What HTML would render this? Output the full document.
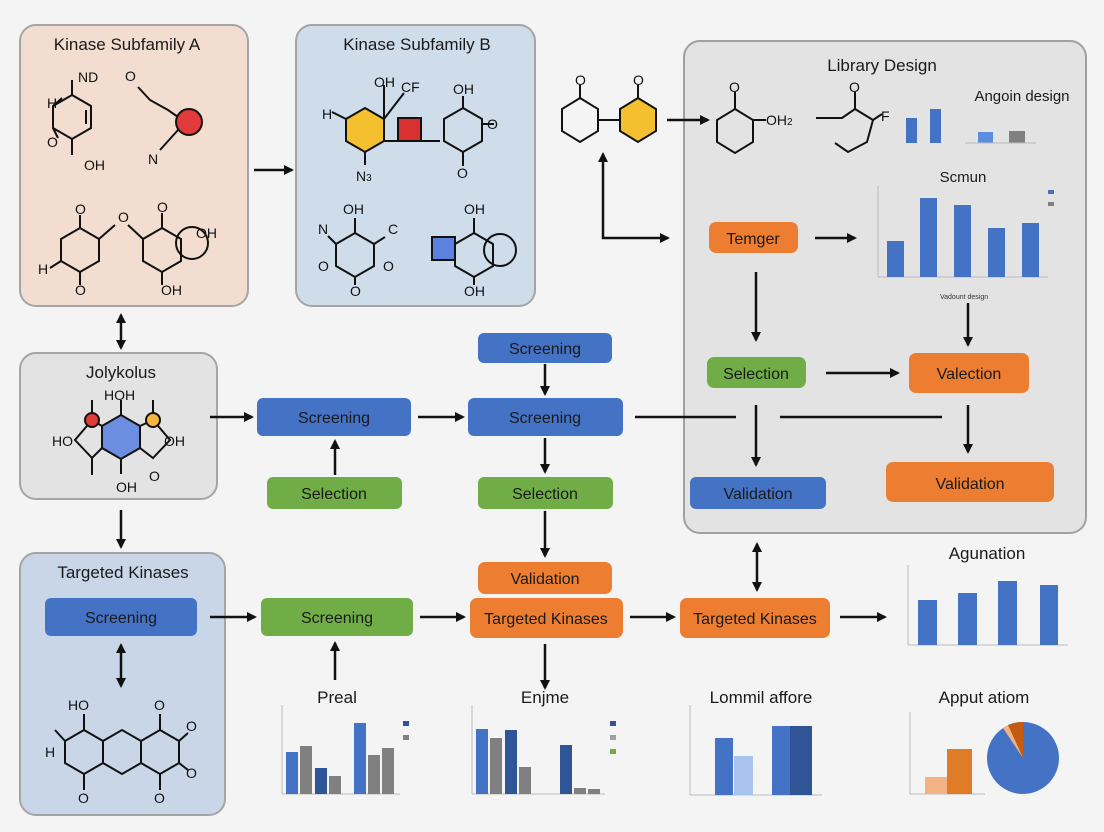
<!DOCTYPE html>
<html><head><meta charset="utf-8"><style>
html,body{margin:0;padding:0;background:#f4f4f4;}
svg{display:block;font-family:"Liberation Sans",sans-serif;}
</style></head><body>
<svg width="1104" height="832" viewBox="0 0 1104 832" xmlns="http://www.w3.org/2000/svg">
<defs>
<marker id="a" markerWidth="10" markerHeight="10" refX="8" refY="5" orient="auto" markerUnits="userSpaceOnUse"><path d="M0,0 L10,5 L0,10 z" fill="#111"/></marker>
<marker id="s" markerWidth="10" markerHeight="10" refX="2" refY="5" orient="auto" markerUnits="userSpaceOnUse"><path d="M10,0 L0,5 L10,10 z" fill="#111"/></marker>
</defs>
<rect width="1104" height="832" fill="#f4f4f4"/>

<!-- panels -->
<rect x="20" y="25" width="228" height="281" rx="16" fill="#f2ddd0" stroke="#a5a5a5" stroke-width="2"/>
<rect x="296" y="25" width="239" height="281" rx="16" fill="#cfdcea" stroke="#a5a5a5" stroke-width="2"/>
<rect x="684" y="41" width="402" height="492" rx="16" fill="#e3e3e3" stroke="#a0a0a0" stroke-width="2"/>
<rect x="20" y="353" width="197" height="146" rx="16" fill="#e3e3e3" stroke="#a5a5a5" stroke-width="2"/>
<rect x="20" y="553" width="205" height="262" rx="16" fill="#c9d6e8" stroke="#a5a5a5" stroke-width="2"/>

<g font-size="17" fill="#1a1a1a" text-anchor="middle">
<text x="127" y="50">Kinase Subfamily A</text>
<text x="417" y="50">Kinase Subfamily B</text>
<text x="882" y="71">Library Design</text>
<text x="1022" y="101" font-size="15">Angoin design</text>
<text x="963" y="182" font-size="15">Scmun</text>
<text x="121" y="378">Jolykolus</text>
<text x="123" y="578">Targeted Kinases</text>
<text x="987" y="559">Agunation</text>
<text x="337" y="703">Preal</text>
<text x="545" y="703">Enjme</text>
<text x="761" y="703">Lommil affore</text>
<text x="984" y="703">Apput atiom</text>
</g>

<!-- boxes -->
<g font-size="16" text-anchor="middle" fill="#1a1a1a">
<rect x="478" y="333" width="134" height="30" rx="6" fill="#4472c4"/><text x="545" y="354">Screening</text>
<rect x="257" y="398" width="154" height="38" rx="6" fill="#4472c4"/><text x="334" y="423">Screening</text>
<rect x="468" y="398" width="155" height="38" rx="6" fill="#4472c4"/><text x="545" y="423">Screening</text>
<rect x="267" y="477" width="135" height="32" rx="6" fill="#70ad47"/><text x="334" y="499">Selection</text>
<rect x="478" y="477" width="135" height="32" rx="6" fill="#70ad47"/><text x="545" y="499">Selection</text>
<rect x="478" y="562" width="134" height="32" rx="7" fill="#ed7d31"/><text x="545" y="584">Validation</text>
<rect x="470" y="598" width="153" height="40" rx="7" fill="#ed7d31"/><text x="546" y="624">Targeted Kinases</text>
<rect x="680" y="598" width="150" height="40" rx="7" fill="#ed7d31"/><text x="755" y="624">Targeted Kinases</text>
<rect x="45" y="598" width="152" height="38" rx="6" fill="#4472c4"/><text x="121" y="623">Screening</text>
<rect x="261" y="598" width="152" height="38" rx="6" fill="#70ad47"/><text x="337" y="623">Screening</text>
<rect x="709" y="222" width="89" height="31" rx="7" fill="#ed7d31"/><text x="753" y="244">Temger</text>
<rect x="707" y="357" width="99" height="31" rx="7" fill="#70ad47"/><text x="756" y="379">Selection</text>
<rect x="909" y="353" width="120" height="40" rx="7" fill="#ed7d31"/><text x="969" y="379">Valection</text>
<rect x="690" y="477" width="136" height="32" rx="6" fill="#4472c4"/><text x="758" y="499">Validation</text>
<rect x="886" y="462" width="168" height="40" rx="7" fill="#ed7d31"/><text x="970" y="489">Validation</text>
</g>

<!-- arrows -->
<g stroke="#111" stroke-width="2.5" fill="none">
<line x1="254" y1="170" x2="292" y2="170" marker-end="url(#a)"/>
<line x1="121" y1="315" x2="121" y2="348" marker-end="url(#a)" marker-start="url(#s)"/>
<line x1="210" y1="417" x2="252" y2="417" marker-end="url(#a)"/>
<line x1="418" y1="417" x2="463" y2="417" marker-end="url(#a)"/>
<line x1="335" y1="475" x2="335" y2="441" marker-end="url(#a)"/>
<line x1="545" y1="364" x2="545" y2="394" marker-end="url(#a)"/>
<line x1="545" y1="438" x2="545" y2="472" marker-end="url(#a)"/>
<line x1="545" y1="511" x2="545" y2="556" marker-end="url(#a)"/>
<line x1="121" y1="510" x2="121" y2="547" marker-end="url(#a)"/>
<line x1="121" y1="645" x2="121" y2="686" marker-end="url(#a)" marker-start="url(#s)"/>
<line x1="210" y1="617" x2="255" y2="617" marker-end="url(#a)"/>
<line x1="420" y1="617" x2="464" y2="617" marker-end="url(#a)"/>
<line x1="630" y1="617" x2="674" y2="617" marker-end="url(#a)"/>
<line x1="840" y1="617" x2="885" y2="617" marker-end="url(#a)"/>
<line x1="335" y1="680" x2="335" y2="643" marker-end="url(#a)"/>
<line x1="545" y1="644" x2="545" y2="688" marker-end="url(#a)"/>
<line x1="757" y1="544" x2="757" y2="590" marker-end="url(#a)" marker-start="url(#s)"/>
<line x1="667" y1="120" x2="708" y2="120" marker-end="url(#a)"/>
<polyline points="603,154 603,238 668,238" marker-end="url(#a)" marker-start="url(#s)"/>
<line x1="815" y1="238" x2="855" y2="238" marker-end="url(#a)"/>
<line x1="756" y1="272" x2="756" y2="340" marker-end="url(#a)"/>
<line x1="968" y1="303" x2="968" y2="345" marker-end="url(#a)"/>
<line x1="826" y1="373" x2="898" y2="373" marker-end="url(#a)"/>
<line x1="756" y1="405" x2="756" y2="465" marker-end="url(#a)"/>
<line x1="968" y1="405" x2="968" y2="452" marker-end="url(#a)"/>
<line x1="635" y1="417" x2="736" y2="417"/>
<line x1="780" y1="417" x2="942" y2="417"/>
</g>

<!-- molecules -->
<g stroke="#111" stroke-width="2" fill="none" font-size="14">
<!-- A -->
<polygon points="72,95 91,106 91,128 72,139 53,128 53,106"/>
<line x1="86" y1="110" x2="86" y2="124"/><line x1="72" y1="95" x2="72" y2="80"/><line x1="72" y1="139" x2="72" y2="155"/>
<line x1="53" y1="106" x2="62" y2="98"/><line x1="53" y1="128" x2="58" y2="138"/>
<polyline points="138,87 150,100 168,110 178,117"/><line x1="178" y1="130" x2="160" y2="150"/>
<circle cx="189" cy="122" r="13" fill="#e03a3a"/>
<polygon points="80,228 99,239 99,261 80,272 61,261 61,239"/>
<polygon points="162,228 181,239 181,261 162,272 143,261 143,239"/>
<circle cx="192" cy="243" r="16"/>
<line x1="80" y1="228" x2="80" y2="215"/><line x1="80" y1="272" x2="80" y2="285"/><line x1="99" y1="239" x2="115" y2="225"/><line x1="128" y1="225" x2="143" y2="239"/>
<line x1="162" y1="228" x2="162" y2="213"/><line x1="162" y1="272" x2="162" y2="285"/><line x1="61" y1="261" x2="50" y2="268"/>
<!-- B -->
<polygon points="365,108 384,119 384,141 365,152 346,141 346,119" fill="#f5c030"/>
<line x1="384" y1="119" x2="384" y2="85"/><line x1="384" y1="119" x2="404" y2="93"/><line x1="346" y1="119" x2="332" y2="112"/><line x1="365" y1="152" x2="365" y2="165"/>
<line x1="384" y1="141" x2="440" y2="141"/>
<rect x="398" y="118" width="23" height="23" fill="#d93030"/>
<polygon points="463,108 482,119 482,141 463,152 444,141 444,119"/>
<line x1="463" y1="108" x2="463" y2="96"/><line x1="482" y1="124" x2="494" y2="124"/><line x1="463" y1="152" x2="463" y2="166"/>
<polygon points="355,233 374,244 374,266 355,277 336,266 336,244"/>
<line x1="355" y1="233" x2="355" y2="218"/><line x1="355" y1="277" x2="355" y2="285"/><line x1="336" y1="244" x2="328" y2="236"/><line x1="374" y1="244" x2="385" y2="237"/>
<polygon points="474,233 493,244 493,266 474,277 455,266 455,244"/>
<line x1="474" y1="233" x2="474" y2="218"/><line x1="474" y1="277" x2="474" y2="285"/>
<circle cx="500" cy="250" r="16"/>
<rect x="432" y="237" width="23" height="23" fill="#5b82e0"/>
<!-- Jolykolus -->
<polygon points="121,415 140,426 140,448 121,459 102,448 102,426" fill="#6b8ee0"/>
<line x1="121" y1="415" x2="121" y2="400"/><line x1="121" y1="459" x2="121" y2="474"/>
<polyline points="102,426 92,420 75,440 92,458 102,448"/><polyline points="140,426 153,420 170,440 153,458 140,448"/>
<line x1="92" y1="413" x2="92" y2="400"/><line x1="92" y1="458" x2="92" y2="475"/><line x1="153" y1="413" x2="153" y2="400"/>
<circle cx="92" cy="420" r="7" fill="#e03a3a"/><circle cx="153" cy="420" r="7" fill="#f5b540"/>
<!-- Targeted kinases molecule -->
<polygon points="84,730 103,741 103,763 84,774 65,763 65,741"/>
<polygon points="122,730 141,741 141,763 122,774 103,763 103,741"/>
<polygon points="160,730 179,741 179,763 160,774 141,763 141,741"/>
<line x1="84" y1="730" x2="84" y2="714"/><line x1="84" y1="774" x2="84" y2="790"/><line x1="160" y1="730" x2="160" y2="714"/><line x1="160" y1="774" x2="160" y2="790"/>
<line x1="65" y1="741" x2="55" y2="730"/><line x1="179" y1="741" x2="188" y2="733"/><line x1="179" y1="763" x2="188" y2="770"/>
<!-- top middle -->
<polygon points="580,98 598,109 598,131 580,142 562,131 562,109"/>
<line x1="580" y1="98" x2="580" y2="85"/>
<line x1="598" y1="120" x2="620" y2="120"/>
<polygon points="638,98 656,109 656,131 638,142 620,131 620,109" fill="#f5c030"/>
<line x1="638" y1="98" x2="638" y2="85"/>
<polygon points="735,109 753,120 753,142 735,153 717,142 717,120"/>
<line x1="735" y1="109" x2="735" y2="92"/><line x1="753" y1="120" x2="766" y2="120"/>
<polyline points="816,118 842,118 855,109 873,120 867,142 848,152 835,143"/>
<line x1="855" y1="109" x2="855" y2="92"/><line x1="873" y1="120" x2="882" y2="114"/>
</g>
<g font-size="14" fill="#111">
<text x="78" y="82">ND</text><text x="47" y="108">H</text><text x="47" y="147">O</text><text x="84" y="170">OH</text>
<text x="125" y="81">O</text><text x="148" y="164">N</text>
<text x="75" y="214">O</text><text x="118" y="222">O</text><text x="157" y="212">O</text><text x="196" y="238">OH</text><text x="38" y="274">H</text><text x="75" y="295">O</text><text x="161" y="295">OH</text>
<text x="374" y="87">OH</text><text x="401" y="92">CF</text><text x="322" y="119">H</text><text x="356" y="181">N<tspan font-size="10">3</tspan></text>
<text x="453" y="94">OH</text><text x="487" y="129">O</text><text x="457" y="178">O</text>
<text x="343" y="214">OH</text><text x="318" y="234">N</text><text x="388" y="234">C</text><text x="318" y="271">O</text><text x="383" y="271">O</text><text x="350" y="296">O</text>
<text x="464" y="214">OH</text><text x="464" y="296">OH</text>
<text x="104" y="400">HOH</text><text x="52" y="446">HO</text><text x="164" y="446">OH</text><text x="116" y="492">OH</text><text x="149" y="481">O</text>
<text x="68" y="710">HO</text><text x="45" y="757">H</text><text x="154" y="710">O</text><text x="186" y="731">O</text><text x="186" y="778">O</text><text x="78" y="803">O</text><text x="154" y="803">O</text>
<text x="575" y="85">O</text><text x="633" y="85">O</text><text x="729" y="92">O</text><text x="766" y="125">OH<tspan font-size="10">2</tspan></text><text x="849" y="92">O</text><text x="881" y="121">F</text>
</g>

<!-- small charts in library -->
<g>
<rect x="906" y="118" width="11" height="25" fill="#4472c4"/><rect x="930" y="109" width="11" height="34" fill="#4472c4"/>
<rect x="978" y="132" width="15" height="11" fill="#5b8ee0"/><rect x="1009" y="131" width="16" height="12" fill="#808080"/>
<line x1="965" y1="143" x2="1036" y2="143" stroke="#bbb"/>
<line x1="878" y1="186" x2="878" y2="277" stroke="#bbb"/><line x1="878" y1="277" x2="1048" y2="277" stroke="#bbb"/>
<rect x="887" y="241" width="17" height="36" fill="#4472c4"/>
<rect x="920" y="198" width="17" height="79" fill="#4472c4"/>
<rect x="954" y="205" width="17" height="72" fill="#4472c4"/>
<rect x="988" y="228" width="17" height="49" fill="#4472c4"/>
<rect x="1022" y="223" width="17" height="54" fill="#4472c4"/>
<rect x="1048" y="190" width="6" height="4" fill="#4472c4"/><rect x="1048" y="202" width="6" height="4" fill="#808080"/>
<text x="940" y="299" font-size="7" fill="#333">Vadount design</text>
</g>

<!-- Agunation chart -->
<g>
<line x1="908" y1="565" x2="908" y2="645" stroke="#bbb"/><line x1="908" y1="645" x2="1068" y2="645" stroke="#bbb"/>
<rect x="918" y="600" width="19" height="45" fill="#4472c4"/>
<rect x="958" y="593" width="19" height="52" fill="#4472c4"/>
<rect x="998" y="581" width="19" height="64" fill="#4472c4"/>
<rect x="1040" y="585" width="18" height="60" fill="#4472c4"/>
</g>

<!-- bottom charts -->
<g>
<line x1="282" y1="705" x2="282" y2="794" stroke="#bbb"/><line x1="282" y1="794" x2="400" y2="794" stroke="#bbb"/>
<rect x="286" y="752" width="12" height="42" fill="#4472c4"/><rect x="300" y="746" width="12" height="48" fill="#808080"/>
<rect x="315" y="768" width="12" height="26" fill="#2f5597"/><rect x="329" y="776" width="12" height="18" fill="#808080"/>
<rect x="354" y="723" width="12" height="71" fill="#4472c4"/><rect x="368" y="755" width="12" height="39" fill="#808080"/><rect x="382" y="748" width="12" height="46" fill="#808080"/>
<rect x="403" y="721" width="6" height="5" fill="#2f5597"/><rect x="403" y="735" width="6" height="5" fill="#808080"/>

<line x1="472" y1="705" x2="472" y2="794" stroke="#bbb"/><line x1="472" y1="794" x2="605" y2="794" stroke="#bbb"/>
<rect x="476" y="729" width="12" height="65" fill="#4472c4"/><rect x="490" y="738" width="12" height="56" fill="#808080"/>
<rect x="505" y="730" width="12" height="64" fill="#2f5597"/><rect x="519" y="767" width="12" height="27" fill="#808080"/>
<rect x="560" y="745" width="12" height="49" fill="#2f5597"/><rect x="574" y="788" width="12" height="6" fill="#808080"/><rect x="588" y="789" width="12" height="5" fill="#808080"/>
<rect x="610" y="721" width="6" height="5" fill="#2f5597"/><rect x="610" y="735" width="6" height="5" fill="#a0a0a0"/><rect x="610" y="749" width="6" height="5" fill="#70ad47"/>

<line x1="690" y1="705" x2="690" y2="795" stroke="#bbb"/><line x1="690" y1="795" x2="822" y2="795" stroke="#bbb"/>
<rect x="715" y="738" width="18" height="57" fill="#4472c4"/><rect x="734" y="756" width="19" height="39" fill="#a9c4ee"/>
<rect x="772" y="726" width="18" height="69" fill="#4472c4"/><rect x="790" y="726" width="22" height="69" fill="#2f5597"/>

<line x1="910" y1="712" x2="910" y2="794" stroke="#bbb"/><line x1="910" y1="794" x2="985" y2="794" stroke="#bbb"/>
<rect x="925" y="777" width="22" height="17" fill="#f4b183"/><rect x="947" y="749" width="25" height="45" fill="#e07b28"/>
<circle cx="1023" cy="758" r="36" fill="#4472c4"/>
<path d="M1023,758 L1023,722 A36,36 0 0 0 1008,725 Z" fill="#c55a11"/>
<path d="M1023,758 L1008,725 A36,36 0 0 0 1003,728 Z" fill="#f4b183"/>
</g>
</svg>
</body></html>
